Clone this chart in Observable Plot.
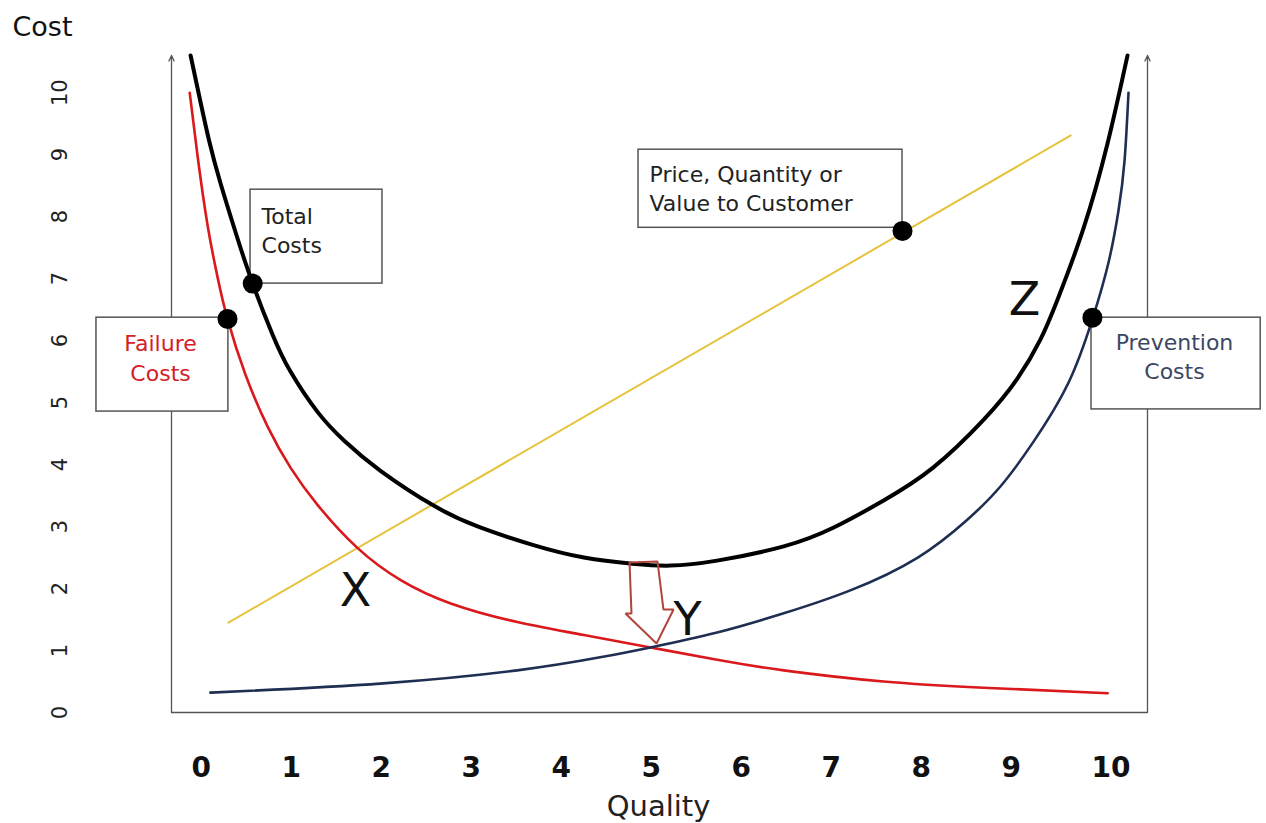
<!DOCTYPE html>
<html>
<head>
<meta charset="utf-8">
<script src="https://cdn.jsdelivr.net/npm/d3@7"></script>
<script src="https://cdn.jsdelivr.net/npm/@observablehq/plot@0.6"></script>
<style>
  html, body { margin: 0; padding: 0; background: #fff; }
  #chart svg { display: block; }
</style>
</head>
<body>
<div id="chart"></div>
<script>
// ---- data ----
const xTicks = [0, 1, 2, 3, 4, 5, 6, 7, 8, 9, 10];
const yTicks = [0, 1, 2, 3, 4, 5, 6, 7, 8, 9, 10];

const failureQ = [-0.12, -0.03, 0.08, 0.19, 0.30, 0.50, 0.75, 1.00, 1.30, 1.74, 2.22, 2.78, 3.52, 4.26, 5.00, 5.74, 6.48, 7.59, 8.70, 10.08];
const failureC = [10.0, 8.95, 7.85, 7.02, 6.35, 5.45, 4.60, 3.95, 3.35, 2.66, 2.14, 1.76, 1.46, 1.25, 1.05, 0.85, 0.68, 0.50, 0.40, 0.31];

const preventionQ = [0.11, 0.56, 2.03, 3.52, 4.44, 5.00, 5.74, 6.48, 7.22, 7.97, 8.52, 8.89, 9.256, 9.644, 9.911, 10.089, 10.20, 10.267, 10.311];
const preventionC = [0.32, 0.35, 0.47, 0.68, 0.89, 1.05, 1.29, 1.60, 1.97, 2.50, 3.11, 3.65, 4.37, 5.32, 6.35, 7.26, 8.10, 8.90, 10.0];

const totalQ = [-0.11, 0.00, 0.10, 0.22, 0.40, 0.58, 0.80, 1.00, 1.30, 1.60, 2.00, 2.60, 3.10, 3.70, 4.26, 4.80, 5.22, 5.74, 6.48, 7.03, 7.59, 8.14, 8.70, 9.078, 9.333, 9.522, 9.811, 10.078, 10.30];
const totalC = [10.6, 9.85, 9.20, 8.55, 7.70, 6.92, 6.10, 5.50, 4.85, 4.38, 3.90, 3.33, 2.99, 2.70, 2.50, 2.40, 2.37, 2.45, 2.68, 2.98, 3.42, 3.95, 4.72, 5.39, 6.02, 6.66, 7.81, 9.18, 10.6];

const valueQ = [0.31, 9.67];
const valueC = [1.45, 9.31];

const markerQ = [0.30, 0.58, 7.80, 9.91];
const markerC = [6.35, 6.92, 7.77, 6.37];

// hollow arrow outline (quality, cost)
const arrowQ = [4.767, 5.078, 5.144, 5.256, 5.067, 4.722, 4.789];
const arrowC = [2.419, 2.435, 1.661, 1.661, 1.113, 1.597, 1.597];

// ---- build tables ----
const toRows = (qs, cs) => qs.map((q, i) => ({q, c: cs[i]}));
const failure = toRows(failureQ, failureC);
const prevention = toRows(preventionQ, preventionC);
const total = toRows(totalQ, totalC);
const value = toRows(valueQ, valueC);
const markers = toRows(markerQ, markerC);
const arrowPts = toRows(arrowQ, arrowC);

const boxes = [
  {x1: -1.156, x2: 0.31, y1: 4.855, y2: 6.37},
  {x1: 0.556, x2: 2.022, y1: 6.92, y2: 8.435},
  {x1: 4.867, x2: 7.80, y1: 7.82, y2: 9.08},
  {x1: 9.90, x2: 11.78, y1: 4.89, y2: 6.37}
];

const W = 1266, H = 823;
const font = "DejaVu Sans, sans-serif";

const chart = Plot.plot({
  width: W,
  height: H,
  marginLeft: 171,
  marginRight: 119,
  marginTop: 55,
  marginBottom: 111,
  x: {domain: [-0.3222, 10.5222], axis: null},
  y: {domain: [0, 10.6], axis: null},
  style: {fontFamily: font, background: "#fff", color: "#222"},
  marks: [
    // axis lines
    Plot.ruleY([0], {x1: -0.3222, x2: 10.5222, stroke: "#555", strokeWidth: 1.5}),
    Plot.arrow([-0.3222, 10.5222], {x1: d => d, x2: d => d, y1: 0, y2: 10.6, stroke: "#555", strokeWidth: 1.3, headLength: 7, headAngle: 50}),
    // label boxes
    Plot.rect(boxes, {x1: "x1", x2: "x2", y1: "y1", y2: "y2", fill: "white", stroke: "#555", strokeWidth: 1.5}),
    // curves
    Plot.line(value, {x: "q", y: "c", stroke: "#e6c33c", strokeWidth: 2}),
    Plot.line(failure, {x: "q", y: "c", stroke: "#d9191c", strokeWidth: 2.6, curve: "natural"}),
    Plot.line(prevention, {x: "q", y: "c", stroke: "#1e2f52", strokeWidth: 2.6, curve: "natural"}),
    Plot.line(total, {x: "q", y: "c", stroke: "#000", strokeWidth: 4, curve: "natural"}),
    // hollow arrow
    Plot.line([...arrowPts, arrowPts[0]], {x: "q", y: "c", stroke: "#b0443a", strokeWidth: 2, fill: "none", strokeLinejoin: "miter"}),
    // markers
    Plot.dot(markers, {x: "q", y: "c", r: 10, fill: "#000", stroke: null}),
    // box texts
    Plot.text(["Failure\nCosts"], {x: -0.444, y: 5.355, text: d => d, textAnchor: "middle", lineAnchor: "bottom", lineHeight: 1.35, fontSize: 22, fill: "#d42027"}),
    Plot.text(["Total\nCosts"], {x: 0.678, y: 7.419, text: d => d, textAnchor: "start", lineAnchor: "bottom", lineHeight: 1.32, fontSize: 22, fill: "#222"}),
    Plot.text(["Price, Quantity or\nValue to Customer"], {x: 4.989, y: 8.097, text: d => d, textAnchor: "start", lineAnchor: "bottom", lineHeight: 1.28, fontSize: 22, fill: "#222"}),
    Plot.text(["Prevention\nCosts"], {x: 10.822, y: 5.387, text: d => d, textAnchor: "middle", lineAnchor: "bottom", lineHeight: 1.28, fontSize: 22, fill: "#3b4763"}),
    // X Y Z letters
    Plot.text(["X"], {x: 1.722, y: 1.952, text: d => d, fontSize: 46, fill: "#111", lineAnchor: "middle"}),
    Plot.text(["Y"], {x: 5.411, y: 1.484, text: d => d, fontSize: 46, fill: "#111", lineAnchor: "middle"}),
    Plot.text(["Z"], {x: 9.156, y: 6.645, text: d => d, fontSize: 46, fill: "#111", lineAnchor: "middle"}),
    // tick labels
    Plot.text(xTicks, {x: d => d, text: d => String(d), frameAnchor: "bottom", dy: 56, dx: -9, textAnchor: "start", lineAnchor: "middle", fontSize: 28, fontWeight: "bold", fill: "#111"}),
    Plot.text(yTicks, {y: d => d, text: d => String(d), frameAnchor: "left", dx: -111, rotate: -90, textAnchor: "middle", lineAnchor: "middle", fontSize: 21, fill: "#222"}),
    // axis titles
    Plot.text(["Cost"], {frameAnchor: "top-left", text: d => d, dx: -159, dy: -20, textAnchor: "start", lineAnchor: "bottom", fontSize: 27, fill: "#111"}),
    Plot.text(["Quality"], {frameAnchor: "bottom-left", text: d => d, dx: 487, dy: 103, textAnchor: "middle", lineAnchor: "bottom", fontSize: 29, fill: "#222"})
  ]
});

document.getElementById("chart").appendChild(chart);
</script>
</body>
</html>
